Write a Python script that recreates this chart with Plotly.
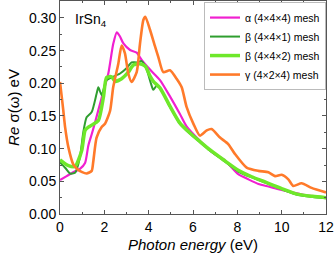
import plotly.graph_objects as go

alpha_x = [0, 0.3, 0.6, 0.9, 1.13, 1.28, 1.43, 1.58, 1.88, 2.18, 2.4, 2.56, 2.7, 2.86, 3.16, 3.46, 3.7, 4.06, 4.51, 4.96, 5.41, 5.71, 6.31, 6.92, 7.44, 8.04, 8.5, 8.95, 9.4, 9.85, 10.5, 11.05, 11.5, 12]
alpha_y = [0.052, 0.058, 0.064, 0.069, 0.078, 0.105, 0.122, 0.140, 0.178, 0.215, 0.26, 0.278, 0.272, 0.261, 0.251, 0.247, 0.235, 0.221, 0.205, 0.18, 0.153, 0.134, 0.112, 0.093, 0.082, 0.061, 0.053, 0.046, 0.042, 0.038, 0.033, 0.029, 0.027, 0.025]

beta1_x = [0, 0.25, 0.45, 0.68, 0.9, 1.05, 1.2, 1.43, 1.65, 1.73, 1.88, 2.1, 2.4, 2.71, 3.0, 3.23, 3.46, 3.68, 3.9, 4.1, 4.21, 4.35, 4.51, 4.96, 5.41, 5.86, 6.31, 6.77, 7.37, 8.04, 8.65, 9.25, 10.0, 10.75, 11.4, 12]
beta1_y = [0.079, 0.07, 0.062, 0.063, 0.087, 0.125, 0.148, 0.156, 0.184, 0.194, 0.182, 0.205, 0.21, 0.215, 0.223, 0.232, 0.232, 0.234, 0.222, 0.2, 0.19, 0.196, 0.193, 0.164, 0.138, 0.123, 0.110, 0.097, 0.082, 0.065, 0.056, 0.048, 0.038, 0.029, 0.026, 0.024]

beta2_x = [0, 0.38, 0.68, 0.98, 1.13, 1.28, 1.43, 1.73, 1.96, 2.1, 2.33, 2.48, 2.78, 3.08, 3.31, 3.6, 3.85, 4.05, 4.21, 4.51, 4.96, 5.41, 5.86, 6.31, 6.77, 7.37, 8.04, 8.65, 9.25, 10.0, 10.75, 11.4, 12]
beta2_y = [0.083, 0.074, 0.073, 0.097, 0.128, 0.133, 0.136, 0.143, 0.179, 0.209, 0.21, 0.203, 0.207, 0.217, 0.228, 0.230, 0.226, 0.212, 0.203, 0.193, 0.165, 0.139, 0.124, 0.111, 0.098, 0.083, 0.067, 0.057, 0.049, 0.039, 0.030, 0.027, 0.025]

gamma_x = [0, 0.08, 0.15, 0.23, 0.38, 0.6, 0.8, 1.0, 1.2, 1.43, 1.5, 1.65, 1.88, 2.03, 2.26, 2.4, 2.63, 2.78, 2.93, 3.08, 3.23, 3.46, 3.61, 3.76, 3.85, 4.06, 4.29, 4.43, 4.66, 4.96, 5.26, 5.49, 5.71, 6.02, 6.31, 6.62, 6.84, 7.22, 7.59, 7.89, 8.42, 8.95, 9.4, 9.7, 10.0, 10.3, 10.52, 10.9, 11.35, 12]
gamma_y = [0.202, 0.179, 0.158, 0.133, 0.102, 0.076, 0.068, 0.064, 0.062, 0.066, 0.08, 0.117, 0.133, 0.138, 0.158, 0.194, 0.23, 0.258, 0.246, 0.215, 0.202, 0.217, 0.261, 0.297, 0.302, 0.282, 0.256, 0.241, 0.217, 0.22, 0.207, 0.194, 0.164, 0.138, 0.12, 0.128, 0.130, 0.117, 0.107, 0.092, 0.071, 0.066, 0.064, 0.058, 0.060, 0.053, 0.043, 0.047, 0.040, 0.033]

names = ["α (4×4×4) mesh", "β (4×4×1) mesh", "β (4×4×2) mesh", "γ (4×2×4) mesh"]
x_ticks = [0, 2, 4, 6, 8, 10, 12]
y_ticks = [0.00, 0.05, 0.10, 0.15, 0.20, 0.25, 0.30]

FONT = "Liberation Sans, Arial, sans-serif"
fig = go.Figure()
fig.add_trace(go.Scatter(x=alpha_x, y=alpha_y, name=names[0], mode="lines",
                         line=dict(color="#f020d0", width=2.2, shape="spline", smoothing=0.6)))
fig.add_trace(go.Scatter(x=beta1_x, y=beta1_y, name=names[1], mode="lines",
                         line=dict(color="#2f9e2f", width=2.0, shape="spline", smoothing=0.6)))
fig.add_trace(go.Scatter(x=beta2_x, y=beta2_y, name=names[2], mode="lines",
                         line=dict(color="#6ee82a", width=3.5, shape="spline", smoothing=0.6)))
fig.add_trace(go.Scatter(x=gamma_x, y=gamma_y, name=names[3], mode="lines",
                         line=dict(color="#ff7a2a", width=2.6, shape="spline", smoothing=0.6)))

fig.add_annotation(x=0.6, y=0.297, xref="x", yref="y", text="IrSn<sub>4</sub>",
                   showarrow=False, xanchor="left", yanchor="middle",
                   font=dict(family=FONT, size=14, color="black"))

axis_common = dict(showline=True, linecolor="#555", linewidth=1, mirror="ticks",
                   ticks="inside", ticklen=4, tickcolor="#555", showgrid=False, zeroline=False,
                   automargin=False,
                   tickfont=dict(family=FONT, size=14, color="black"))
fig.update_xaxes(range=[0, 12], tickvals=x_ticks, ticktext=[str(v) for v in x_ticks],
                 minor=dict(ticks="inside", ticklen=2, dtick=1, tickcolor="#555"),
                 title=dict(text="<i>Photon energy</i> (eV)", font=dict(family=FONT, size=15), standoff=5),
                 **axis_common)
fig.update_yaxes(range=[0, 0.326], tickvals=y_ticks, ticktext=[f"{v:.2f}" for v in y_ticks],
                 minor=dict(ticks="inside", ticklen=2, dtick=0.025, tick0=0, tickcolor="#555"),
                 title=dict(text="<i>Re</i> σ(ω) eV", font=dict(family=FONT, size=15), standoff=5),
                 **axis_common)

fig.update_layout(
    width=335, height=260,
    margin=dict(l=60, r=9, t=1, b=46),
    paper_bgcolor="white", plot_bgcolor="white",
    font=dict(family=FONT, color="black"),
    legend=dict(x=1, y=0.995, xanchor="right", yanchor="top",
                bgcolor="white", bordercolor="#bbb", borderwidth=1,
                font=dict(family=FONT, size=10.5), itemwidth=30,
                tracegroupgap=0, traceorder="normal"),
)
fig.write_html("out.html", config={"displayModeBar": False},
               post_script="document.body.style.margin='0';")
